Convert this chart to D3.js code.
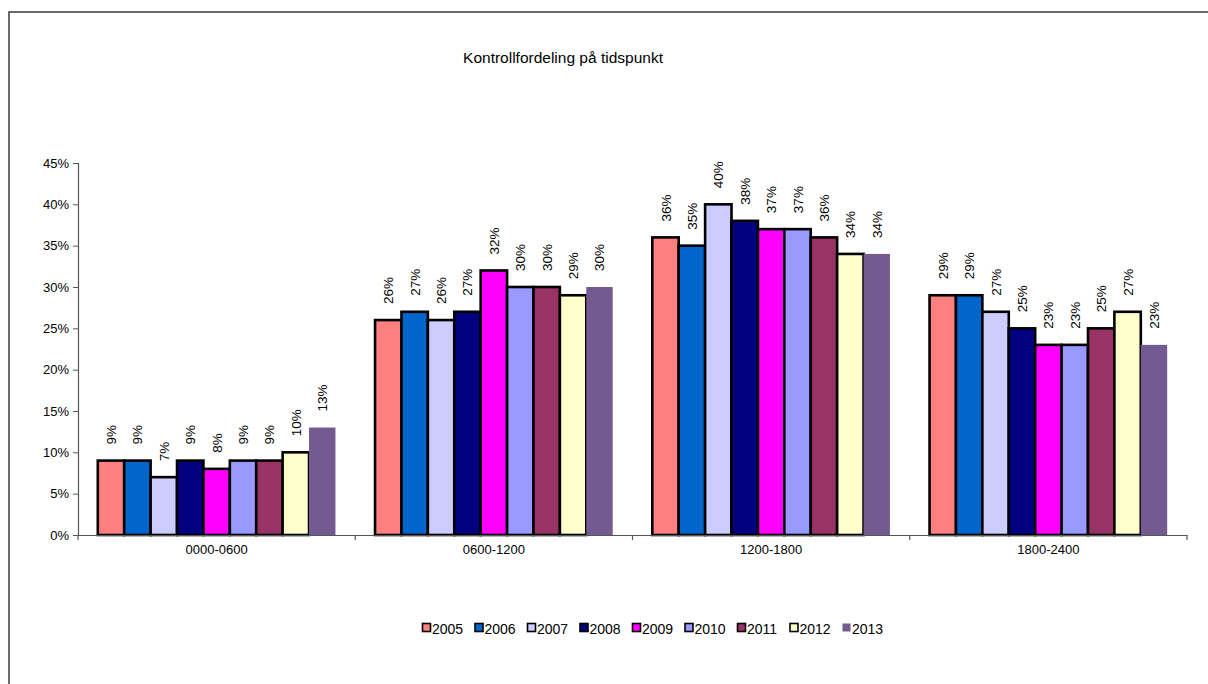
<!DOCTYPE html>
<html>
<head>
<meta charset="utf-8">
<script src="https://cdn.jsdelivr.net/npm/d3@7"></script>
<style>
  html, body { margin: 0; padding: 0; background: #fff; }
  svg { display: block; font-family: "Liberation Sans", Arial, sans-serif; }
</style>
</head>
<body>
<svg id="chart" width="1208" height="684"></svg>
<script>
// Share of inspections by time of day, per year
const categories = ["0000-0600", "0600-1200", "1200-1800", "1800-2400"];
const years = ["2005", "2006", "2007", "2008", "2009", "2010", "2011", "2012", "2013"];
const values2005 = [9, 26, 36, 29];
const values2006 = [9, 27, 35, 29];
const values2007 = [7, 26, 40, 27];
const values2008 = [9, 27, 38, 25];
const values2009 = [8, 32, 37, 23];
const values2010 = [9, 30, 37, 23];
const values2011 = [9, 30, 36, 25];
const values2012 = [10, 29, 34, 27];
const values2013 = [13, 30, 34, 23];
const yTicks = [0, 5, 10, 15, 20, 25, 30, 35, 40, 45];

const seriesValues = [values2005, values2006, values2007, values2008, values2009,
                      values2010, values2011, values2012, values2013];
const colors = ["#FF8080", "#0066CC", "#CCCCFF", "#000080", "#FF00FF",
                "#9999FF", "#993366", "#FFFFCC", "#735B91"];
const outlined = [true, true, true, true, true, true, true, true, false];

const svg = d3.select("#chart");

// outer chart frame
svg.append("rect")
  .attr("x", 9).attr("y", 12)
  .attr("width", 1400).attr("height", 900)
  .attr("fill", "none").attr("stroke", "#3a3a3a").attr("stroke-width", 1.5);

// title
svg.append("text")
  .attr("x", 563).attr("y", 63)
  .attr("text-anchor", "middle")
  .attr("font-size", 15.5)
  .attr("fill", "#000")
  .text("Kontrollfordeling på tidspunkt");

const plot = { left: 78, right: 1187, top: 163, bottom: 535 };

const x0 = d3.scaleBand().domain(categories).range([plot.left, plot.right]).padding(0);
// 150% gap width: each category holds 9 bars plus 1.5 bar widths of gap
const barW = x0.bandwidth() / 10.5;
const x1 = d3.scaleBand().domain(years).range([barW * 0.75, barW * 9.75]).padding(0);

const y = d3.scaleLinear().domain([0, 45]).range([plot.bottom, plot.top]);

// y axis
const yAxis = svg.append("g")
  .attr("transform", `translate(${plot.left},0)`)
  .call(d3.axisLeft(y).tickValues(yTicks).tickSize(5).tickPadding(4).tickFormat(d => d + "%"));
yAxis.select(".domain").attr("stroke", "#555").attr("stroke-width", 1.2);
yAxis.selectAll(".tick line").attr("stroke", "#555");
yAxis.selectAll(".tick text").attr("font-size", 13).attr("fill", "#000")
  .attr("font-family", "Liberation Sans, Arial, sans-serif");

// bars with rotated value labels
const groups = svg.append("g").selectAll("g")
  .data(categories)
  .join("g")
  .attr("transform", d => `translate(${x0(d)},0)`);

groups.each(function(cat, ci) {
  const g = d3.select(this);
  years.forEach((yr, si) => {
    const v = seriesValues[si][ci];
    const bx = x1(yr);
    g.append("rect")
      .attr("x", bx)
      .attr("y", y(v))
      .attr("width", x1.bandwidth())
      .attr("height", y(0) - y(v))
      .attr("fill", colors[si])
      .attr("stroke", outlined[si] ? "#000" : "none")
      .attr("stroke-width", 2.6);
    const cx = bx + x1.bandwidth() / 2;
    g.append("text")
      .attr("transform", `translate(${cx + 5},${y(v) - 16}) rotate(-90)`)
      .attr("text-anchor", "start")
      .attr("font-size", 13.5)
      .attr("fill", "#000")
      .text(v + "%");
  });
});

// x axis
const xAxis = svg.append("g")
  .attr("transform", `translate(0,${plot.bottom})`)
  .call(d3.axisBottom(x0).tickSize(0).tickPadding(10));
xAxis.select(".domain").attr("stroke", "#555").attr("stroke-width", 1.2);
xAxis.selectAll(".tick text").attr("font-size", 13).attr("fill", "#000")
  .attr("font-family", "Liberation Sans, Arial, sans-serif");
// category separators
const sepPositions = categories.map(c => x0(c)).concat([plot.right]);
svg.append("g").selectAll("line")
  .data(sepPositions)
  .join("line")
  .attr("x1", d => d).attr("x2", d => d)
  .attr("y1", plot.bottom).attr("y2", plot.bottom + 5)
  .attr("stroke", "#555").attr("stroke-width", 1.2);

// legend
const legend = svg.append("g").attr("transform", "translate(422,623)");
const legendStep = 52.5;
years.forEach((yr, i) => {
  const lg = legend.append("g").attr("transform", `translate(${i * legendStep},0)`);
  lg.append("rect")
    .attr("x", 0.5).attr("y", 0.5).attr("width", 8).attr("height", 8)
    .attr("fill", colors[i])
    .attr("stroke", outlined[i] ? "#000" : "none")
    .attr("stroke-width", 1.6);
  lg.append("text")
    .attr("x", 10).attr("y", 10.5)
    .attr("font-size", 14)
    .attr("fill", "#000")
    .text(yr);
});
</script>
</body>
</html>
